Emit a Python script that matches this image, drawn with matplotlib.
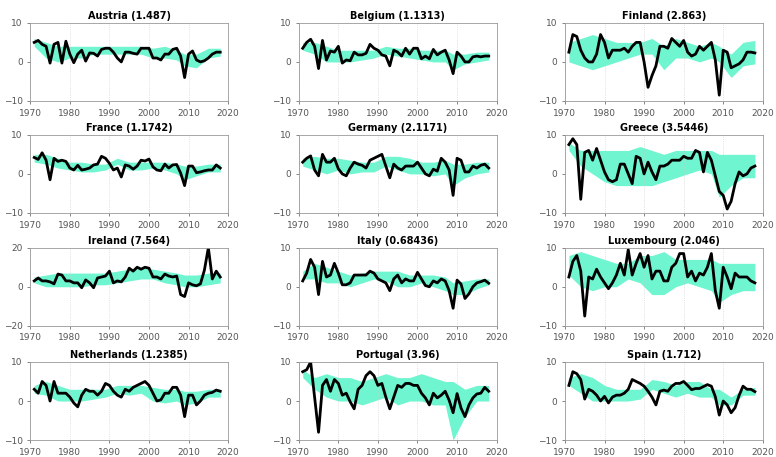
import matplotlib
matplotlib.use("Agg")
import matplotlib.pyplot as plt

countries = ["Austria (1.487)", "Belgium (1.1313)", "Finland (2.863)",
             "France (1.1742)", "Germany (2.1171)", "Greece (3.5446)",
             "Ireland (7.564)", "Italy (0.68436)", "Luxembourg (2.046)",
             "Netherlands (1.2385)", "Portugal (3.96)", "Spain (1.712)"]

austria = [5,5.5,4.5,4,-0.3,4.5,5,-0.3,5.3,2,-0.2,2,3,0.2,2.3,2.2,1.5,3.2,3.5,3.5,2.5,1,0,2.5,2.5,2.2,2,3.5,3.5,3.5,1,1,0.5,2,2,3.2,3.5,1.5,-4,2,2.8,0.5,0,0.3,1,2,2.5,2.5]
belgium = [3.5,5,5.8,4,-1.7,5.5,0.5,2.8,2.5,4,-0.3,0.5,0.3,2.5,1.8,1.8,2.2,4.5,3.5,3,1.8,1.5,-1,3,2.5,1.5,3.5,2,3.5,3.5,0.8,1.5,0.8,3.2,1.8,2.5,3,0.5,-3,2.5,1.5,0,0,1.3,1.5,1.3,1.5,1.5]
finland = [2.5,7,6.5,3,1,0,0,2,7,5,1,3,3,3,3.5,2.5,4,5,5,0,-6.5,-3.5,-1,4,4,3.5,6,5,4,5.5,2.5,1.5,2,4,3,4,5,0.5,-8.5,3,2.5,-1.5,-1,-0.5,0.5,2.5,2.5,2.3]
france = [4.2,3.7,5.4,3.5,-1.5,4,3.2,3.5,3.2,1.5,1,2.2,1,1.2,1.5,2.3,2.5,4.5,4,2.7,1,1.5,-0.8,2.3,2,1.2,2,3.5,3.3,3.8,1.8,1,0.8,2.5,1.5,2.3,2.4,0.2,-3,2,2,0.3,0.5,0.8,1,1,2.3,1.5]
germany = [3,4,4.6,1,-0.5,5,3,3,4,1.3,0,-0.5,1.5,3,2.5,2.2,1.5,3.5,4,4.5,5,2,-1,2.5,1.5,1,2,2,2,3,1.5,0,-0.5,1.2,0.7,4,3,1,-5.5,4,3.5,0.5,0.5,2,1.5,2.2,2.5,1.5]
greece = [7.5,9,7.5,-6.5,5.5,6,3.5,6.5,3.5,0.5,-1.5,-2,-1.5,2.5,2.5,0,-2.5,4.5,4,0,3,0.5,-1.5,2,2,2.5,3.5,3.5,3.5,4.5,4,4,6,5.5,0.5,5.5,3.5,-0.5,-4.5,-5.5,-9,-7,-2.5,0.5,-0.5,0,1.5,2]
ireland = [3,4.5,3,3,2.5,1.5,6.5,6,3,3,2,2,-0.5,3.5,2,-0.5,4.5,5,5.5,8,2,3,2.5,5,9.5,8,10,9,10,9.5,5,5,4,6.5,5.5,5,5.5,-4,-5,2,1,0.5,1.5,8.5,20,4,8,5]
italy = [1.5,3.5,7,5,-2,6.5,2.5,3,6,3.5,0.5,0.5,1,3,3,3,3,4,3.5,2,1.5,1,-1,2,3,1,2,1.5,1.5,3.7,2,0.3,0,1.5,1,2,1.5,-1,-5.5,1.7,0.7,-3,-1.8,0,1,1.3,1.7,0.9]
luxembourg = [2.5,6.5,8,4,-7.5,2.5,2,4.5,2.5,1,-0.5,1,3,6,3,9.5,3,6,8.5,5,8,2,4,4,1.5,1.5,5,6,8.5,8.5,2.5,4,1.5,3.5,3,5,8.5,-1,-5.5,5,2.5,-0.5,3.5,2.5,2.5,2.5,1.5,1]
netherlands = [3,2,5,4,0,5,2,2,2,1,-0.5,-1.5,1.5,3,2.5,2.5,1.5,2.5,4.5,4,2.5,1.5,1,3,2.5,3.5,4,4.5,5,4,2,0,0.3,2,2,3.5,3.5,1.5,-4,1.5,1.5,-1,0,1.5,2,2.2,2.8,2.5]
portugal = [7.5,8,10,1,-8,4,5.5,2.5,5.5,4.5,1.5,2,-0.2,-2,3,4,6.5,7.5,6.5,4,4.5,1,-2,1,4,3.5,4.5,4.5,4,4,2,0.8,-1,2,0.8,1.5,2.5,0.2,-3,1.9,-1.8,-4,-1,0.8,1.8,2,3.5,2.5]
spain = [4,7.5,7,5.5,0.5,3,2.5,1.5,0,1.2,-0.5,1,1.5,1.5,2,3,5.5,5,4.5,3.8,2.5,1,-1,2.5,2.8,2.5,3.8,4.5,4.5,5,4,2.9,3.2,3.2,3.7,4.2,3.8,1.1,-3.6,0,-1,-3,-1.7,1.4,3.8,3,3,2.4]

band_years = [1971,1974,1977,1980,1983,1986,1989,1992,1995,1998,2001,2004,2007,2009,2012,2015,2018]
band_hi = [
 [6,5,4,4,4,4,4,4,4,4,3.5,4,3,2,2,3.5,3.5],
 [5,5,4,3,3,3,3,4,3.5,3.5,3,3,3,2,2,2.5,2.5],
 [5,6,7,6,5,5,5,6,4,6,5,4,5,4,2,5,5.5],
 [5,5,4,3,3,2.5,2.5,4,3,3,3,3,2.5,2,2,2.5,2.5],
 [4,4.5,4,4,3.5,3,3,4.5,4.5,4,3,3,3.5,2.5,2.5,3,3],
 [8,6,6,6,6,6,7,6,5,6,6,6,6,5,5,5,5],
 [5,6,7,7,7,7,7,8,9,10,9,8,7,6,6,7,7],
 [4,6,5,4,3,3.5,4,4,4,3,3,3,2.5,1,1.5,2,2],
 [8,9,8,7,6,6,8,8,9,7,7,7,7,6,6,6,6],
 [4,5,4,3,3,3,3,4,4,4,3.5,3,3,2.5,2.5,3,3],
 [8,6,7,6,6,5,6,7,6,6,7,6,5,5,3,4,4],
 [6,7,6,4,3,3,3,5.5,5,4,5,5,3,3,1,3,3.5],
]
band_lo = [
 [4,1,0,1,1,2,2,2,2,2,1,1,0.5,-1,-1.5,1,1.5],
 [3,2,0,0,0,0.5,1,2,1.5,1,0.5,0,0,-2,-0.5,0,0.5],
 [0,-1,-2,-1,0,1,2,2,-2,1,1,0,1,0,-4,-1,-0.5],
 [3,2.5,1.5,1,0.5,0.5,1,2.5,1,1,1.5,1,0,-1.5,-0.5,0.5,0.5],
 [2,1,0,1,0,0.5,0.5,2,1,0,0,-0.5,0,-3,-1,0,0.5],
 [6,2,0,-2,-3,-3,-3,-3,-2,-1,0,1,0,-6,-3,-1,-1],
 [2,0,0,0,0,1,1,2,3,4,4,2,1,0,0,1,2],
 [2,2,1,1,0,1,2,1.5,0,0,1,0,-1,-2,-2,-0.5,0.5],
 [3,0,-1,0,0,2,1,-2,-2,0,1,0,-1,-4,-2,-1,-1],
 [2,1.5,0,0,0,0.5,1,2,1.5,2,0,-0.5,0,-1,-0.5,1,1],
 [6,3,1,0,0,-1,0,1,-1,0,0,-1,-1,-10,-4,0,0],
 [4,2,0,0,0,0,0.5,3,2,1,2,1,1,-1,-1,1.5,1.5],
]
series = [austria, belgium, finland, france, germany, greece,
          ireland, italy, luxembourg, netherlands, portugal, spain]

fig = plt.figure(figsize=(7.76, 4.57), dpi=100)
lefts = [0.039, 0.385, 0.728]
bottoms = [0.779, 0.534, 0.287, 0.037]
for i, (name, vals) in enumerate(zip(countries, series)):
    r, c = divmod(i, 3)
    ax = fig.add_axes([lefts[c], bottoms[r], 0.255, 0.171])
    yrs = list(range(1971, 1971 + len(vals)))
    ax.fill_between(band_years, band_lo[i], band_hi[i], color='#6ff5cf', lw=0)
    ax.plot(yrs, vals, color='black', lw=2)
    ax.set_xlim(1970, 2020)
    lim = 20 if name.startswith("Ireland") else 10
    ax.set_ylim(-lim, lim)
    ax.set_yticks([-lim, 0, lim])
    ax.set_xticks(range(1970, 2021, 10))
    ax.grid(axis='x', color='#cccccc', lw=0.5, ls=':')
    ax.tick_params(labelsize=6.5, colors='#555555', length=2, width=0.5)
    for s in ax.spines.values():
        s.set_color('#999999'); s.set_linewidth(0.6)
    ax.set_title(name, fontsize=7, fontweight='bold', pad=3)
fig.savefig("out.png", dpi=100)
